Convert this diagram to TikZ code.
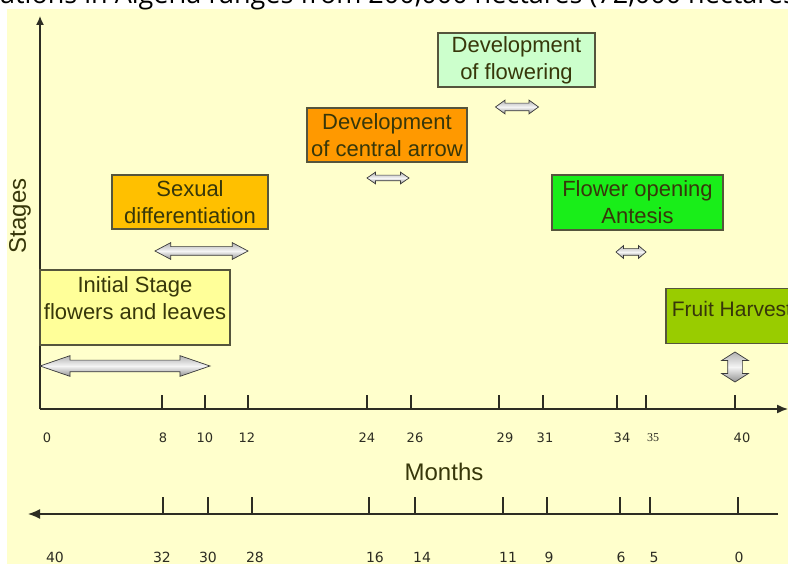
\documentclass[tikz,border=0pt]{standalone}
\usepackage{fontspec}
\setmainfont{Liberation Sans}
\newfontfamily\tickfont{DejaVu Sans}
\newfontfamily\seriftick{Liberation Serif}
\newfontfamily\pagefont{Open Sans}
\usetikzlibrary{arrows.meta,positioning,shapes.arrows}
\definecolor{chartbg}{RGB}{255,255,204}
\definecolor{stagetext}{RGB}{55,55,10}
\definecolor{stageedge}{RGB}{85,85,60}
\definecolor{initfill}{RGB}{255,255,153}
\definecolor{sexfill}{RGB}{255,192,0}
\definecolor{centralfill}{RGB}{255,153,0}
\definecolor{flowerfill}{RGB}{204,255,204}
\definecolor{openfill}{RGB}{25,238,25}
\definecolor{harvestfill}{RGB}{153,204,0}
\definecolor{axisdark}{RGB}{45,45,35}
\tikzset{
  stagebox/.style={draw=stageedge,line width=1.3pt,text=stagetext,font=\fontsize{22}{27}\selectfont,align=center,inner sep=0pt},
  spanarrow/.style={double arrow,draw=gray!45!black,line width=0.7pt,inner xsep=0pt,top color=gray!60,bottom color=gray!85,middle color=gray!8},
  toplbl/.style={font=\tickfont\fontsize{13}{13}\selectfont,text=axisdark},
  botlbl/.style={font=\tickfont\fontsize{14}{14}\selectfont,text=axisdark}
}

\begin{document}
\begin{tikzpicture}[x=1pt,y=-1pt,>=Latex]
\clip (0,0) rectangle (788,564);
\fill[chartbg] (7,9) rectangle (788,564);
\node[font=\pagefont\fontsize{27}{27}\selectfont,anchor=base west,inner sep=0pt] (pagetext) at (0,4) {ations in Algeria ranges from 200,000 hectares (72,000 hectares};
% axes
\coordinate (origin) at (40,409);\coordinate (ytop) at (40,16);\coordinate (xend) at (788,409);
\coordinate (rstart) at (778,514);\coordinate (rend) at (28,514);
\draw[axisdark,line width=1.4pt,-{Latex[length=9pt,width=8pt]}] (origin)--(ytop);
\draw[axisdark,line width=1.4pt,-{Latex[length=11pt,width=9pt]}] (origin)--(xend);
\draw[axisdark,line width=1.4pt,-{Latex[length=12pt,width=10pt]}] (rstart)--(rend);
\draw[axisdark,line width=1.1pt] (162,409)--++(0,-14) (205,409)--++(0,-14) (248,409)--++(0,-14) (367,409)--++(0,-14) (411,409)--++(0,-14);
\draw[axisdark,line width=1.1pt] (499,409)--++(0,-14) (543,409)--++(0,-14) (617,409)--++(0,-14) (646,409)--++(0,-14) (735,409)--++(0,-14);
\draw[axisdark,line width=1.1pt] (163,514)--++(0,-17) (208,514)--++(0,-17) (252,514)--++(0,-17) (369,514)--++(0,-17) (415,514)--++(0,-17);
\draw[axisdark,line width=1.1pt] (503,514)--++(0,-17) (547,514)--++(0,-17) (620,514)--++(0,-17) (650,514)--++(0,-17) (738,514)--++(0,-17);
% month labels
\node[toplbl] (m0) at (47,438) {0};\node[toplbl] (m8) at (163,438) {8};\node[toplbl] (m10) at (205,438) {10};\node[toplbl] (m12) at (247,438) {12};
\node[toplbl] (m24) at (367,438) {24};\node[toplbl] (m26) at (415,438) {26};\node[toplbl] (m29) at (505,438) {29};\node[toplbl] (m31) at (545,438) {31};
\node[toplbl] (m34) at (622,438) {34};\node[font=\seriftick\fontsize{12}{12}\selectfont,text=axisdark] (m35) at (653,438) {35};\node[toplbl] (m40) at (742,438) {40};
\node[botlbl] (r40) at (55,557) {40};\node[botlbl] (r32) at (162,557) {32};\node[botlbl] (r30) at (208,557) {30};\node[botlbl] (r28) at (255,557) {28};
\node[botlbl] (r16) at (375,557) {16};\node[botlbl] (r14) at (422,557) {14};\node[botlbl] (r11) at (508,557) {11};\node[botlbl] (r9) at (549,557) {9};
\node[botlbl] (r6) at (621,557) {6};\node[botlbl] (r5) at (654,557) {5};\node[botlbl] (r0) at (739,557) {0};
\node[font=\fontsize{24}{24}\selectfont,text=stagetext,anchor=base] (months) at (444,480) {Months};
\node[font=\fontsize{24}{24}\selectfont,text=stagetext,rotate=90] (stages) at (20,216) {Stages};
% stage boxes
\node[stagebox,fill=initfill,minimum width=190pt,minimum height=75pt] (initial) at (135,307.5) {};
\node[stagebox,draw=none] (initialtext) at (135,298) {Initial Stage\\flowers and leaves};
\node[stagebox,fill=sexfill,minimum width=156pt,minimum height=54pt] (sexual) at (190,202) {Sexual\\differentiation};
\node[stagebox,fill=centralfill,minimum width=160pt,minimum height=54pt] (central) at (387,135) {Development\\of central arrow};
\node[stagebox,fill=flowerfill,minimum width=157pt,minimum height=54pt] (flowering) at (516.5,60) {Development\\of flowering};
\node[stagebox,fill=openfill,minimum width=171pt,minimum height=55pt] (opening) at (637.5,202.5) {Flower opening\\Antesis};
\node[stagebox,fill=harvestfill,font=\fontsize{21}{25}\selectfont,minimum width=132pt,minimum height=55pt,text depth=14pt] (harvest) at (732,316) {Fruit Harvest};
% duration arrows
\node[spanarrow,inner ysep=5.5pt,minimum height=170pt,double arrow head extend=4.5pt,double arrow tip angle=38] (span1) at (125,366) {};
\node[spanarrow,inner ysep=4pt,minimum height=93pt,double arrow head extend=4pt,double arrow tip angle=56] (span2) at (201.5,251) {};
\node[spanarrow,inner ysep=2.5pt,minimum height=42pt,double arrow head extend=3pt,double arrow tip angle=69] (span3) at (388,178) {};
\node[spanarrow,inner ysep=3.5pt,minimum height=43pt,double arrow head extend=3pt,double arrow tip angle=72] (span4) at (517,107) {};
\node[spanarrow,inner ysep=3pt,minimum height=30pt,double arrow head extend=3pt,double arrow tip angle=81] (span5) at (631,252) {};
\node[spanarrow,rotate=90,inner ysep=7pt,minimum height=30pt,double arrow head extend=6pt,double arrow tip angle=115] (span6) at (735,367) {};
\end{tikzpicture}
\end{document}
